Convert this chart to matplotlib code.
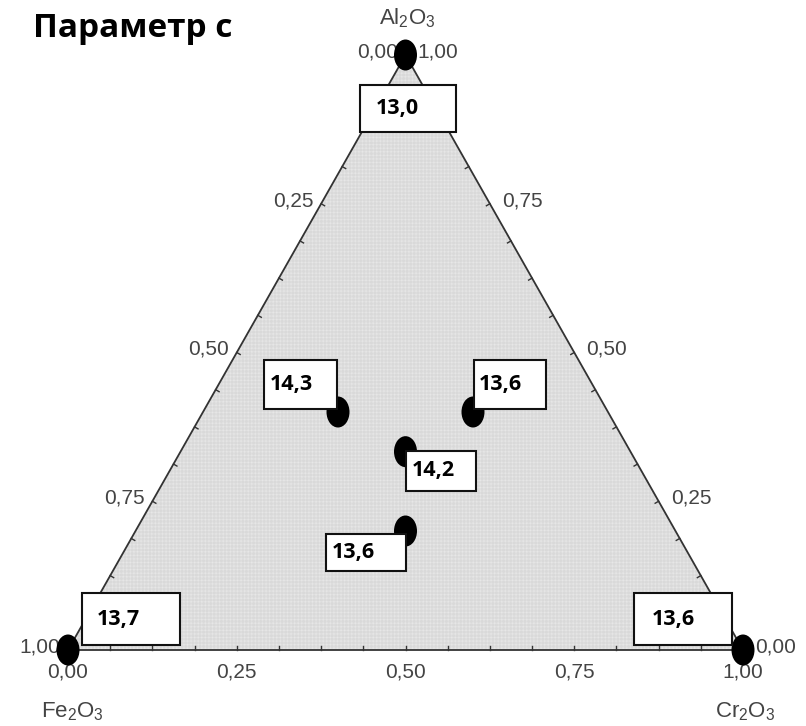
import matplotlib
matplotlib.use("Agg")
import matplotlib.pyplot as plt
from matplotlib.patches import Polygon, Ellipse, Rectangle
import numpy as np

plt.rcParams['mathtext.fontset'] = 'custom'
plt.rcParams['mathtext.rm'] = 'Liberation Sans'
plt.rcParams['mathtext.it'] = 'Liberation Sans'
plt.rcParams['hatch.linewidth'] = 0.4

# Data: mixture fractions (Fe2O3, Al2O3, Cr2O3) and parameter c
fe = [0.0, 1.0, 0.0, 0.4, 0.2, 1/3, 0.4]
al = [1.0, 0.0, 0.0, 0.4, 0.4, 1/3, 0.2]
cr = [0.0, 0.0, 1.0, 0.2, 0.4, 1/3, 0.4]
c_values = ["13,0", "13,7", "13,6", "14,3", "13,6", "14,2", "13,6"]
tick_vals = [0.0, 0.25, 0.5, 0.75, 1.0]
tick_labels = ["0,00", "0,25", "0,50", "0,75", "1,00"]
title = "Параметр с"
comp_labels = ["Al$_2$O$_3$", "Fe$_2$O$_3$", "Cr$_2$O$_3$"]

W, H = 806, 726
fig = plt.figure(figsize=(W/100, H/100), dpi=100)
ax = fig.add_axes([0, 0, 1, 1])
# pixel layout of triangle
X0, XW = 68, 675
Y0, YH = 650, 595
ax.set_xlim(-X0/XW, (W - X0)/XW)
ax.set_ylim(-(H - Y0)/YH, Y0/YH)
ax.axis('off')

def tern(a, c):
    return c + a/2.0, a

px = 1.0/XW
py = 1.0/YH

# triangle
tri = np.array([tern(0, 0), tern(0, 1), tern(1, 0)])
ax.add_patch(Polygon(tri, closed=True, facecolor='#efefef', edgecolor='#d9d9d9',
                     lw=0, hatch='+' * 12, zorder=1))
ax.add_patch(Polygon(tri, closed=True, facecolor='none', edgecolor='#333333',
                     lw=1.3, zorder=2))

# minor ticks along edges (inward)
tk = np.arange(0, 1.0001, 0.0625)
L = 4
for t in tk:
    x, y = tern(0, t)
    ax.plot([x, x], [y, y + L*py], color='#333333', lw=1, zorder=2)
    x, y = tern(t, 0)
    ax.plot([x, x + L*px*0.866], [y, y - L*py*0.5], color='#333333', lw=1, zorder=2)
    x, y = tern(t, 1 - t)
    ax.plot([x, x - L*px*0.866], [y, y - L*py*0.5], color='#333333', lw=1, zorder=2)

tcol = '#444444'
tfs = 15
tfam = 'Liberation Sans'
for v, lab in zip(tick_vals, tick_labels):
    x, y = tern(0, v)
    ax.text(x, y - 22*py, lab, ha='center', va='center', fontsize=tfs, color=tcol, family=tfam)
    x, y = tern(1 - v, 0)
    ax.text(x - 8*px, y + 3*py, lab, ha='right', va='center', fontsize=tfs, color=tcol, family=tfam)
    x, y = tern(v, 1 - v)
    ax.text(x + 12*px, y + 3*py, lab, ha='left', va='center', fontsize=tfs, color=tcol, family=tfam)

x, y = tern(1, 0)
ax.text(x + 2*px, y + 37*py, comp_labels[0], ha='center', va='center', fontsize=16, color=tcol, family=tfam)
x, y = tern(0, 0)
ax.text(x + 4*px, y - 62*py, comp_labels[1], ha='center', va='center', fontsize=16, color=tcol, family=tfam)
x, y = tern(0, 1)
ax.text(x + 2*px, y - 62*py, comp_labels[2], ha='center', va='center', fontsize=16, color=tcol, family=tfam)

ax.text(33*px - X0/XW, (Y0 - 29)/YH, title, ha='left', va='center', fontsize=24,
        fontweight='bold', family='Open Sans', color='black')

# box layout (pixel offsets: left, top, width, height) relative to point
boxes = [(-46, 30, 96, 47), (14, -57, 98, 52), (-109, -57, 98, 52),
         (-74, -52, 73, 49), (1, -52, 72, 49), (0, -1, 70, 40), (-80, 3, 80, 37)]
text_pad = [16, 15, 18, 6, 5, 6, 6]

for i in range(len(c_values)):
    x, y = tern(al[i], cr[i])
    ax.add_patch(Ellipse((x, y), 23*px, 31*py, facecolor='black', edgecolor='none', zorder=4))
    dx, dy, bw, bh = boxes[i]
    left = x + dx*px
    top = y - dy*py
    ax.add_patch(Rectangle((left, top - bh*py), bw*px, bh*py, facecolor='white',
                           edgecolor='#111111', lw=1.5, zorder=5))
    ax.text(left + text_pad[i]*px, top - bh*py/2, c_values[i], ha='left', va='center',
            fontsize=15.5, fontweight='bold', family='Open Sans', zorder=6)

fig.savefig('out.png', dpi=100)
